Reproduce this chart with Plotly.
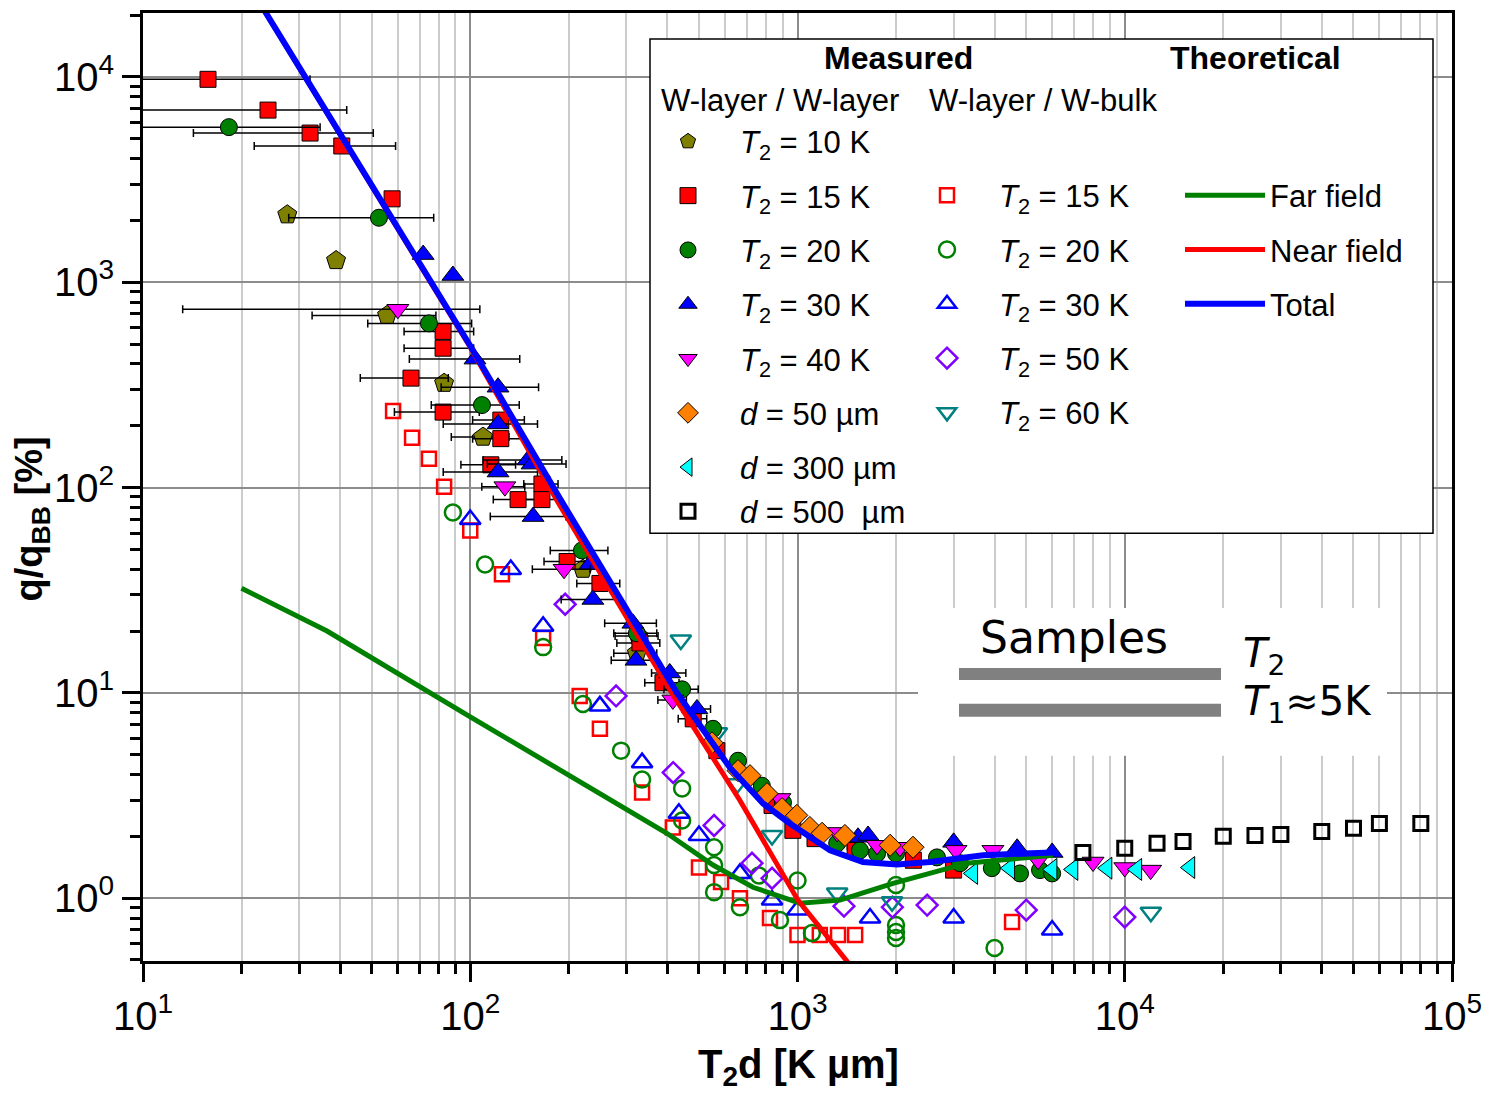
import plotly.graph_objects as go

# ---------------- data ----------------
# Measured, W-layer / W-layer (filled symbols); *_r = relative x error
t10_x = [27.6, 38.9, 55.7, 83.2, 109.4, 221, 326, 323]
t10_y = [2130, 1275, 689, 322, 176, 40, 18.9, 15.6]
t10_r = [0, 0, 0.41, 0, 0.2, 0.15, 0.15, 0.15]

t15_x = [15.8, 24.1, 32.4, 40.5, 57.7, 82.6, 82.6, 65.9, 82.6, 124, 124, 115.6, 165.6,
         140, 165.6, 197.7, 249, 330, 388, 480, 567, 836, 968, 1131, 1500, 1500, 2260, 3000]
t15_y = [9730, 6890, 5325, 4607, 2547, 576, 477, 341, 233, 213, 173, 129, 104,
         87.3, 87.3, 43.6, 34.1, 17.5, 11.2, 7.47, 5.23, 2.83, 2.14, 1.95, 1.87, 1.71, 1.53, 1.37]
t15_r = [1.05, 0.74, 0.56, 0.46, 0, 0.24, 0.24, 0.30, 0.29, 0.18, 0.18, 0.19, 0.12,
         0.16, 0.12, 0.15, 0.15, 0.15, 0.12, 0.10, 0, 0, 0, 0, 0, 0, 0, 0]

t20_x = [18.3, 52.6, 74.8, 108.6, 219.5, 323, 444, 552, 658, 778, 903, 1322, 1552, 1750,
         2000, 2668, 3139, 3926, 4786, 5510, 6000]
t20_y = [5690, 2060, 630, 252, 49.4, 19.5, 10.4, 6.68, 4.67, 3.53, 2.92, 1.85, 1.71, 1.65,
         1.65, 1.58, 1.48, 1.40, 1.32, 1.37, 1.32]
t20_r = [0.9, 0.47, 0.35, 0.30, 0.20, 0.15, 0.12, 0, 0, 0, 0, 0, 0, 0,
         0, 0, 0, 0, 0, 0, 0]

t30_x = [71.8, 88.5, 103.4, 121.6, 121.6, 121.6, 150, 154.5, 155.6, 232, 237, 314, 321,
         407, 493, 1531, 1643, 3000, 4690, 6000]
t30_y = [1363, 1078, 422, 308, 204, 119, 136, 130, 72.2, 42.2, 28.5, 21.8, 14.4,
         12.5, 8.35, 1.98, 2.02, 1.87, 1.75, 1.67]
t30_r = [0, 0, 0.37, 0.33, 0.32, 0.32, 0.27, 0.27, 0.26, 0, 0.20, 0.18, 0.16,
         0.12, 0.10, 0, 0, 0, 0, 0]

t40_x = [60.1, 127.6, 193.5, 416, 884, 1322, 1750, 2055, 3050, 3955, 5433, 8000, 10000, 12000]
t40_y = [738, 101, 40, 9.24, 3.06, 2.09, 1.81, 1.77, 1.71, 1.71, 1.53, 1.50, 1.41, 1.37]
t40_r = [0.78, 0.15, 0.20, 0.10, 0, 0, 0, 0, 0, 0, 0, 0, 0, 0]

d50_x = [548, 658, 716, 807, 897, 995, 1091, 1189, 1396, 1919, 2254]
d50_y = [5.71, 4.18, 3.95, 3.23, 2.73, 2.53, 2.21, 2.07, 2.02, 1.81, 1.77]

d300_x = [3434, 4455, 6000, 6950, 8830, 10890, 15820]
d300_y = [1.32, 1.40, 1.38, 1.38, 1.40, 1.38, 1.41]

d500_x = [7450, 10000, 12550, 15070, 20000, 25000, 30000, 40000, 50000, 60000, 80300]
d500_y = [1.67, 1.75, 1.85, 1.89, 2.00, 2.02, 2.04, 2.11, 2.19, 2.31, 2.31]

# Measured, W-layer / W-bulk (open symbols)
b15_x = [58.1, 66.4, 74.8, 83.2, 100, 125, 167, 216, 249, 335, 416, 500, 584, 667, 824,
         1000, 1170, 1330, 1500, 4525]
b15_y = [236, 174.5, 138, 101, 61.7, 37.8, 18.5, 9.66, 6.68, 3.27, 2.21, 1.41, 1.20, 1.0, 0.80,
         0.661, 0.661, 0.661, 0.661, 0.765]

b20_x = [88.5, 111, 167, 221, 289, 335, 444, 444, 556, 556, 556, 667, 762, 884, 1000, 1107,
         2000, 2000, 2000, 2000, 4000]
b20_y = [75.5, 42.2, 16.7, 8.83, 5.23, 3.78, 3.42, 2.39, 1.77, 1.45, 1.07, 0.904, 1.29, 0.782,
         1.22, 0.676, 1.16, 0.74, 0.684, 0.64, 0.572]

b30_x = [100, 133, 167, 249, 335, 434, 500, 667, 836, 1000, 1666, 3000, 6000]
b30_y = [69.8, 39.9, 21.1, 8.64, 4.57, 2.59, 2.02, 1.32, 0.98, 0.875, 0.80, 0.80, 0.70]

b50_x = [195, 279, 417, 556, 726, 836, 1387, 1950, 2490, 5000, 10000]
b50_y = [27, 9.66, 4.09, 2.26, 1.48, 1.25, 0.914, 0.904, 0.925, 0.875, 0.809]

b60_x = [440, 567, 655, 836, 1322, 1945, 12020]
b60_y = [18.1, 6.39, 3.61, 2.02, 1.06, 0.96, 0.855]

# Theoretical curves
far_x = [20, 36.5, 100, 249, 399, 552, 731, 1018, 1349, 1959, 2594, 3296, 4688, 6040]
far_y = [32.3, 20.0, 7.64, 3.23, 2.07, 1.45, 1.13, 0.946, 0.978, 1.18, 1.34, 1.48, 1.56, 1.62]

near_x = [20, 100, 185, 413, 667, 1003, 1500]
near_y = [32000, 482, 85.3, 10, 2.99, 0.978, 0.44]

tot_x = [20, 100, 187, 428, 622, 785, 948, 1257, 1585, 2014, 2541, 3690, 6040]
tot_y = [32000, 490, 89.6, 10, 4.32, 2.89, 2.31, 1.71, 1.50, 1.46, 1.50, 1.62, 1.67]

# axis ticks
x_major = [10, 100, 1000, 10000, 100000]
x_major_text = ['10<sup>1</sup>', '10<sup>2</sup>', '10<sup>3</sup>', '10<sup>4</sup>', '10<sup>5</sup>']
y_major = [1, 10, 100, 1000, 10000]
y_major_text = ['10<sup>0</sup>', '10<sup>1</sup>', '10<sup>2</sup>', '10<sup>3</sup>', '10<sup>4</sup>']
x_minor = [m * 10 ** e for e in range(1, 5) for m in range(2, 10)]
y_minor = [m * 10 ** e for e in range(-1, 5) for m in range(2, 10)]

FONT = 'Liberation Sans, Arial, sans-serif'
T2 = '<i>T</i><sub>2</sub>'

# page offset of the plot div (browser body margin)
PAGE_OFF = 8
FIG_W, FIG_H = 1494 - PAGE_OFF, 1097 - PAGE_OFF
PLOT_L, PLOT_R, PLOT_T, PLOT_B = 143, 1452, 10, 961   # plot area in page pixels

fig = go.Figure()

def err(xs, rs):
    return dict(type='data', array=[x * r for x, r in zip(xs, rs)], symmetric=True,
                color='black', thickness=1.5, width=4)

filled = [
    (T2 + ' = 10 K', t10_x, t10_y, t10_r, 'pentagon', '#808000', 20, 'legend'),
    (T2 + ' = 15 K', t15_x, t15_y, t15_r, 'square', '#ff0000', 16, 'legend'),
    (T2 + ' = 20 K', t20_x, t20_y, t20_r, 'circle', '#008000', 17, 'legend'),
    (T2 + ' = 30 K', t30_x, t30_y, t30_r, 'triangle-up', '#0000ff', 19, 'legend'),
    (T2 + ' = 40 K', t40_x, t40_y, t40_r, 'triangle-down', '#ff00ff', 19, 'legend'),
    ('<i>d</i> = 50 µm', d50_x, d50_y, None, 'diamond', '#ff8000', 17, 'legend'),
    ('<i>d</i> = 300 µm', d300_x, d300_y, None, 'triangle-left', '#00ffff', 19, 'legend'),
]
hollow = [
    (T2 + ' = 15 K', b15_x, b15_y, 'square-open', '#ff0000', 14, 'legend2'),
    (T2 + ' = 20 K', b20_x, b20_y, 'circle-open', '#008000', 16, 'legend2'),
    (T2 + ' = 30 K', b30_x, b30_y, 'triangle-up-open', '#0000ff', 18, 'legend2'),
    (T2 + ' = 50 K', b50_x, b50_y, 'diamond-open', '#8000ff', 16, 'legend2'),
    (T2 + ' = 60 K', b60_x, b60_y, 'triangle-down-open', '#008080', 18, 'legend2'),
]

gi = 0
for name, xs, ys, symbol, color, size, lg in hollow:
    gi += 1
    fig.add_trace(go.Scatter(x=xs, y=ys, mode='markers', name=name, legend=lg,
                             legendgroup='g%d' % gi,
                             marker=dict(symbol=symbol, size=size, color=color,
                                         line=dict(width=2.5, color=color))))
for name, xs, ys, rs, symbol, color, size, lg in filled:
    gi += 1
    fig.add_trace(go.Scatter(x=xs, y=ys, mode='markers', name=name, legend=lg,
                             legendgroup='g%d' % gi,
                             error_x=err(xs, rs) if rs else None,
                             marker=dict(symbol=symbol, size=size, color=color,
                                         line=dict(width=1, color='black'))))
fig.add_trace(go.Scatter(x=d500_x, y=d500_y, mode='markers', name='<i>d</i> = 500\u00a0 µm',
                         legend='legend4', legendgroup='g_d500',
                         marker=dict(symbol='square-open', size=14, color='black',
                                     line=dict(width=3, color='black'))))

for name, xs, ys, color, w in [('Far field', far_x, far_y, '#008000', 5),
                               ('Near field', near_x, near_y, '#ff0000', 5),
                               ('Total', tot_x, tot_y, '#0000ff', 6)]:
    gi += 1
    fig.add_trace(go.Scatter(x=xs, y=ys, mode='lines', name=name, legend='legend3',
                             legendgroup='g%d' % gi,
                             line=dict(color=color, width=w)))

def px_x(px):
    return (px - PLOT_L) / float(PLOT_R - PLOT_L)

def px_y(py):
    return (PLOT_B - py) / float(PLOT_B - PLOT_T)

legend_common = dict(xanchor='left', yanchor='top', bgcolor='rgba(0,0,0,0)', borderwidth=0,
                     font=dict(size=31, family=FONT, color='black'),
                     traceorder='grouped', tracegroupgap=11)

shapes = [
    # legend box
    dict(type='rect', xref='paper', yref='paper', x0=px_x(650), x1=px_x(1433),
         y0=px_y(532), y1=px_y(36), fillcolor='white', line=dict(color='black', width=1.5),
         layer='above'),
    # samples inset
    dict(type='rect', xref='paper', yref='paper', x0=px_x(918), x1=px_x(1387),
         y0=px_y(755), y1=px_y(607), fillcolor='white', line=dict(width=0), layer='above'),
    dict(type='rect', xref='paper', yref='paper', x0=px_x(959), x1=px_x(1221),
         y0=px_y(679), y1=px_y(667), fillcolor='#808080', line=dict(width=0), layer='above'),
    dict(type='rect', xref='paper', yref='paper', x0=px_x(959), x1=px_x(1221),
         y0=px_y(716), y1=px_y(703), fillcolor='#808080', line=dict(width=0), layer='above'),
]

annotations = [
    dict(text='<b>Measured</b>', x=px_x(898), y=px_y(55), font=dict(size=32)),
    dict(text='<b>Theoretical</b>', x=px_x(1255), y=px_y(55), font=dict(size=32)),
    dict(text='W-layer / W-layer', x=px_x(659), y=px_y(98), xanchor='left', font=dict(size=31)),
    dict(text='W-layer / W-bulk', x=px_x(927), y=px_y(98), xanchor='left', font=dict(size=31)),
    dict(text='Samples', x=px_x(978), y=px_y(636), xanchor='left',
         font=dict(size=44, family='DejaVu Sans')),
    dict(text='<i>T</i><sub>2</sub>', x=px_x(1241), y=px_y(655), xanchor='left',
         font=dict(size=40, family='DejaVu Sans')),
    dict(text='<i>T</i><sub>1</sub>≈5K', x=px_x(1241), y=px_y(703), xanchor='left',
         font=dict(size=40, family='DejaVu Sans')),
    dict(text='<b>q/q<sub>BB</sub> [%]</b>', x=px_x(32), y=px_y(518), textangle=-90,
         font=dict(size=38)),
    dict(text='<b>T<sub>2</sub>d [K µm]</b>', x=px_x(798), y=px_y(1067), font=dict(size=40)),
]
for a in annotations:
    a.setdefault('xanchor', 'center')
    a.update(xref='paper', yref='paper', showarrow=False, yanchor='middle')
    a['font'].setdefault('family', FONT)
    a['font']['color'] = 'black'

axis_common = dict(type='log', tickmode='array', ticks='outside', ticklen=18, tickwidth=3,
                   tickcolor='black', showline=True, linewidth=3, linecolor='black',
                   mirror=True, zeroline=False, tickfont=dict(size=40, family=FONT, color='black'))

fig.update_layout(
    width=FIG_W, height=FIG_H, autosize=False,
    margin=dict(l=PLOT_L - PAGE_OFF, r=FIG_W - (PLOT_R - PAGE_OFF),
                t=PLOT_T - PAGE_OFF, b=FIG_H - (PLOT_B - PAGE_OFF)),
    paper_bgcolor='white', plot_bgcolor='white',
    font=dict(family=FONT, color='black'),
    xaxis=dict(axis_common, range=[1, 5], tickvals=x_major, ticktext=x_major_text,
               showgrid=True, gridcolor='#8c8c8c', gridwidth=1.5,
               minor=dict(tickvals=x_minor, ticks='outside', ticklen=10, tickwidth=2.5,
                          tickcolor='black', showgrid=True, gridcolor='#cccccc', gridwidth=1.5)),
    yaxis=dict(axis_common, range=[-0.306, 4.311], tickvals=y_major, ticktext=y_major_text,
               showgrid=True, gridcolor='#8c8c8c', gridwidth=1.5,
               minor=dict(tickvals=y_minor, ticks='outside', ticklen=10, tickwidth=2.5,
                          tickcolor='black', showgrid=False)),
    xaxis2=dict(type='log', range=[1, 5], overlaying='x', side='top', anchor='y',
                tickmode='array', tickvals=x_major, ticks='inside', ticklen=18, tickwidth=3,
                tickcolor='black', showticklabels=False, showgrid=False, showline=False,
                zeroline=False,
                minor=dict(tickvals=x_minor, ticks='inside', ticklen=10, tickwidth=2.5,
                           tickcolor='black', showgrid=False)),
    yaxis2=dict(type='log', range=[-0.306, 4.311], overlaying='y', side='right', anchor='x',
                tickmode='array', tickvals=y_major, ticks='inside', ticklen=18, tickwidth=3,
                tickcolor='black', showticklabels=False, showgrid=False, showline=False,
                zeroline=False,
                minor=dict(tickvals=y_minor, ticks='inside', ticklen=10, tickwidth=2.5,
                           tickcolor='black', showgrid=False)),
    legend=dict(legend_common, x=px_x(636), y=px_y(112), itemwidth=94),
    legend2=dict(legend_common, x=px_x(895), y=px_y(166), itemwidth=94),
    legend3=dict(legend_common, x=px_x(1180), y=px_y(166), itemwidth=80),
    legend4=dict(legend_common, x=px_x(636), y=px_y(483), itemwidth=94),
    shapes=shapes,
    annotations=annotations,
    showlegend=True,
)

fig.write_html('out.html')
